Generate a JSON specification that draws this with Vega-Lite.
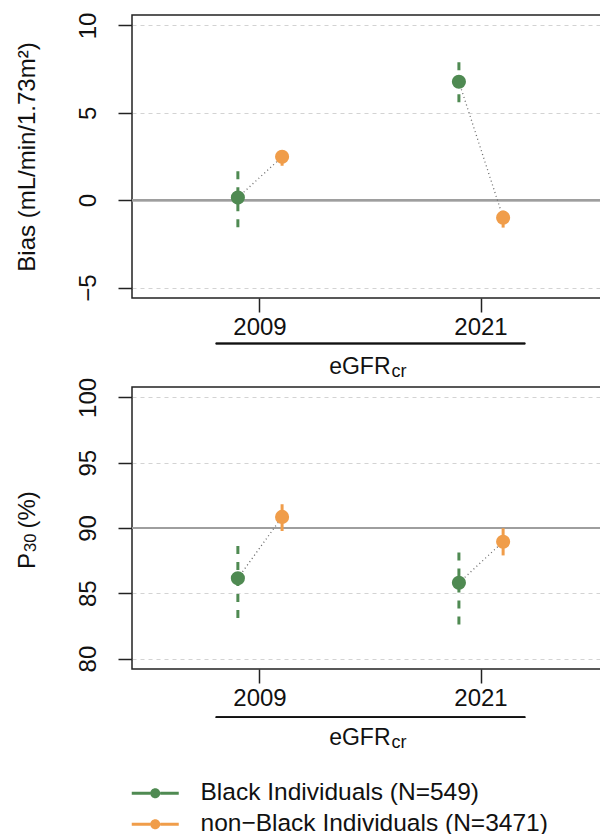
{
  "$schema": "https://vega.github.io/schema/vega-lite/v6.json",
  "padding": {"left": 14, "top": 11, "right": 0, "bottom": 0},
  "config": {
    "font": "Liberation Sans",
    "view": {"stroke": "#222222", "strokeWidth": 1.5},
    "axis": {
      "labelFont": "Liberation Sans", "titleFont": "Liberation Sans",
      "labelFontSize": 24, "titleFontSize": 24, "labelColor": "#111111", "titleColor": "#111111",
      "titleFontWeight": "normal", "tickColor": "#222222", "tickWidth": 1.5, "tickSize": 14,
      "domain": false, "labelOverlap": false
    },
    "legend": {"labelFont": "Liberation Sans"}
  },
  "datasets": {
    "bias": [
      {"equation": "2009", "group": "Black Individuals (N=549)", "est": 0.15, "lo": -1.55, "hi": 2.1},
      {"equation": "2009", "group": "non−Black Individuals (N=3471)", "est": 2.48, "lo": 1.97, "hi": 2.85},
      {"equation": "2021", "group": "Black Individuals (N=549)", "est": 6.78, "lo": 5.6, "hi": 8.2},
      {"equation": "2021", "group": "non−Black Individuals (N=3471)", "est": -1.0, "lo": -1.57, "hi": -0.6}
    ],
    "p30": [
      {"equation": "2009", "group": "Black Individuals (N=549)", "est": 86.15, "lo": 83.1, "hi": 88.95},
      {"equation": "2009", "group": "non−Black Individuals (N=3471)", "est": 90.85, "lo": 89.77, "hi": 91.82},
      {"equation": "2021", "group": "Black Individuals (N=549)", "est": 85.8, "lo": 82.6, "hi": 88.7},
      {"equation": "2021", "group": "non−Black Individuals (N=3471)", "est": 88.95, "lo": 87.9, "hi": 89.98}
    ]
  },
  "vconcat": [
    {
      "width": 477, "height": 283,
      "data": {"name": "bias"},
      "resolve": {"axis": {"x": "independent"}},
      "layer": [
        {
          "mark": {"type": "rule", "color": "#9e9e9e", "strokeWidth": 2},
          "encoding": {"y": {"datum": 0, "type": "quantitative"}}
        },
        {
          "transform": [{"filter": {"field": "group", "equal": "Black Individuals (N=549)"}}],
          "mark": {"type": "rule", "strokeWidth": 3, "color": "#4f8a52", "strokeDash": [8, 8]},
          "encoding": {
            "x": {"field": "equation", "type": "nominal", "scale": {"type": "band", "domain": ["2009", "2021"], "paddingInner": 0.6, "paddingOuter": 0.379}, "axis": null},
            "xOffset": {"field": "group", "type": "nominal", "scale": {"domain": ["Black Individuals (N=549)", "non−Black Individuals (N=3471)"]}},
            "y": {"field": "lo", "type": "quantitative", "title": "Bias (mL/min/1.73m²)",
              "scale": {"domain": [-5.6, 10.6], "nice": false, "zero": false},
              "axis": {"values": [-5, 0, 5, 10], "title": "Bias (mL/min/1.73m²)", "labelAngle": -90, "labelAlign": "center", "labelBaseline": "alphabetic", "labelPadding": 23, "grid": true, "gridDash": [4, 4], "gridColor": "#d3d3d3", "gridWidth": 1, "titleX": -98, "titleAngle": -90, "titleBaseline": "alphabetic", "titleAlign": "center"}},
            "y2": {"field": "hi"}
          }
        },
        {
          "transform": [{"filter": {"field": "group", "equal": "non−Black Individuals (N=3471)"}}],
          "mark": {"type": "rule", "strokeWidth": 3, "color": "#f09d4a"},
          "encoding": {
            "x": {"field": "equation", "type": "nominal", "axis": null},
            "xOffset": {"field": "group", "type": "nominal"},
            "y": {"field": "lo", "type": "quantitative", "title": "Bias (mL/min/1.73m²)"},
            "y2": {"field": "hi"}
          }
        },
        {
          "mark": {"type": "line", "color": "#6b6b6b", "strokeWidth": 1.3, "strokeDash": [1, 3]},
          "encoding": {
            "x": {"field": "equation", "type": "nominal", "axis": null},
            "xOffset": {"field": "group", "type": "nominal"},
            "y": {"field": "est", "type": "quantitative", "title": "Bias (mL/min/1.73m²)"},
            "detail": {"field": "equation"}
          }
        },
        {
          "mark": {"type": "point", "filled": true, "size": 200, "opacity": 1, "strokeWidth": 0},
          "encoding": {
            "x": {"field": "equation", "type": "nominal",
              "axis": {"orient": "bottom", "title": "eGFR", "labelAngle": 0, "labelAlign": "center", "labelBaseline": "alphabetic", "labelPadding": 22, "grid": false, "titleX": 258, "titleY": 75, "titleAlign": "right", "titleBaseline": "alphabetic", "titleFontSize": 23}},
            "xOffset": {"field": "group", "type": "nominal"},
            "y": {"field": "est", "type": "quantitative", "title": "Bias (mL/min/1.73m²)"},
            "color": {"field": "group", "type": "nominal", "scale": {"domain": ["Black Individuals (N=549)", "non−Black Individuals (N=3471)"], "range": ["#4f8a52", "#f09d4a"]},
              "legend": {"orient": "none", "legendX": 11, "legendY": 766, "direction": "vertical", "title": null, "padding": 0,
                "symbolType": "M-4.7,-0.3 L-1,-0.3 L-1,0.3 L-4.7,0.3 Z M1,-0.3 L4.7,-0.3 L4.7,0.3 L1,0.3 Z M-1,0 A1,1 0 1,0 1,0 A1,1 0 1,0 -1,0 Z",
                "symbolSize": 100, "symbolStrokeWidth": 0, "symbolOpacity": 1, "labelFontSize": 24.5, "labelColor": "#111111", "labelOffset": 33, "rowPadding": 6, "labelLimit": 600}}
          }
        },
        {
          "mark": {"type": "rule", "color": "#111111", "strokeWidth": 1.5},
          "encoding": {
            "x": {"datum": "2009", "type": "nominal", "bandPosition": 0,
              "axis": {"orient": "bottom", "title": "cr", "labels": false, "ticks": false, "domain": false, "grid": false, "titleX": 259, "titleY": 78, "titleAlign": "left", "titleBaseline": "alphabetic", "titleFontSize": 18}},
            "x2": {"datum": "2021", "bandPosition": 1},
            "y": {"datum": -8.2, "type": "quantitative"}
          }
        }
      ]
    },
    {
      "width": 477, "height": 282,
      "data": {"name": "p30"},
      "resolve": {"axis": {"x": "independent", "y": "independent"}},
      "layer": [
        {
          "mark": {"type": "rule", "color": "#9e9e9e", "strokeWidth": 2},
          "encoding": {"y": {"datum": 90, "type": "quantitative", "axis": null}}
        },
        {
          "transform": [{"filter": {"field": "group", "equal": "Black Individuals (N=549)"}}],
          "mark": {"type": "rule", "strokeWidth": 3, "color": "#4f8a52", "strokeDash": [8, 8]},
          "encoding": {
            "x": {"field": "equation", "type": "nominal", "scale": {"type": "band", "domain": ["2009", "2021"], "paddingInner": 0.6, "paddingOuter": 0.379}, "axis": null},
            "xOffset": {"field": "group", "type": "nominal", "scale": {"domain": ["Black Individuals (N=549)", "non−Black Individuals (N=3471)"]}},
            "y": {"field": "lo", "type": "quantitative",
              "scale": {"domain": [79.2, 100.8], "nice": false, "zero": false},
              "axis": {"orient": "left", "values": [80, 85, 90, 95, 100], "title": "(%)", "labelAngle": -90, "labelAlign": "center", "labelBaseline": "alphabetic", "labelPadding": 23, "grid": true, "gridDash": [4, 4], "gridColor": "#d3d3d3", "gridWidth": 1, "titleX": -98, "titleY": 141, "titleAngle": -90, "titleBaseline": "alphabetic", "titleAlign": "left"}},
            "y2": {"field": "hi"}
          }
        },
        {
          "transform": [{"filter": {"field": "group", "equal": "non−Black Individuals (N=3471)"}}],
          "mark": {"type": "rule", "strokeWidth": 3, "color": "#f09d4a"},
          "encoding": {
            "x": {"field": "equation", "type": "nominal", "axis": null},
            "xOffset": {"field": "group", "type": "nominal"},
            "y": {"field": "lo", "type": "quantitative", "axis": null},
            "y2": {"field": "hi"}
          }
        },
        {
          "mark": {"type": "line", "color": "#6b6b6b", "strokeWidth": 1.3, "strokeDash": [1, 3]},
          "encoding": {
            "x": {"field": "equation", "type": "nominal", "axis": null},
            "xOffset": {"field": "group", "type": "nominal"},
            "y": {"field": "est", "type": "quantitative",
              "axis": {"orient": "left", "title": "30", "labels": false, "ticks": false, "grid": false, "domain": false, "titleX": -97, "titleY": 164.5, "titleAngle": -90, "titleBaseline": "alphabetic", "titleAlign": "left", "titleFontSize": 16.5}},
            "detail": {"field": "equation"}
          }
        },
        {
          "mark": {"type": "point", "filled": true, "size": 200, "opacity": 1, "strokeWidth": 0},
          "encoding": {
            "x": {"field": "equation", "type": "nominal",
              "axis": {"orient": "bottom", "title": "eGFR", "labelAngle": 0, "labelAlign": "center", "labelBaseline": "alphabetic", "labelPadding": 22, "grid": false, "titleX": 258, "titleY": 75, "titleAlign": "right", "titleBaseline": "alphabetic", "titleFontSize": 23}},
            "xOffset": {"field": "group", "type": "nominal"},
            "y": {"field": "est", "type": "quantitative",
              "axis": {"orient": "left", "title": "P", "labels": false, "ticks": false, "grid": false, "domain": false, "titleX": -98, "titleY": 181.5, "titleAngle": -90, "titleBaseline": "alphabetic", "titleAlign": "left"}},
            "color": {"field": "group", "type": "nominal", "scale": {"domain": ["Black Individuals (N=549)", "non−Black Individuals (N=3471)"], "range": ["#4f8a52", "#f09d4a"]},
              "legend": {"orient": "none", "legendX": 11, "legendY": 766, "direction": "vertical", "title": null, "padding": 0,
                "symbolType": "M-4.7,-0.3 L-1,-0.3 L-1,0.3 L-4.7,0.3 Z M1,-0.3 L4.7,-0.3 L4.7,0.3 L1,0.3 Z M-1,0 A1,1 0 1,0 1,0 A1,1 0 1,0 -1,0 Z",
                "symbolSize": 100, "symbolStrokeWidth": 0, "symbolOpacity": 1, "labelFontSize": 24.5, "labelColor": "#111111", "labelOffset": 33, "rowPadding": 6, "labelLimit": 600}}
          }
        },
        {
          "mark": {"type": "rule", "color": "#111111", "strokeWidth": 1.5},
          "encoding": {
            "x": {"datum": "2009", "type": "nominal", "bandPosition": 0,
              "axis": {"orient": "bottom", "title": "cr", "labels": false, "ticks": false, "domain": false, "grid": false, "titleX": 259, "titleY": 78, "titleAlign": "left", "titleBaseline": "alphabetic", "titleFontSize": 18}},
            "x2": {"datum": "2021", "bandPosition": 1},
            "y": {"datum": 75.5, "type": "quantitative", "axis": null}
          }
        }
      ]
    }
  ],
  "spacing": 89,
  "bounds": "flush"
}
